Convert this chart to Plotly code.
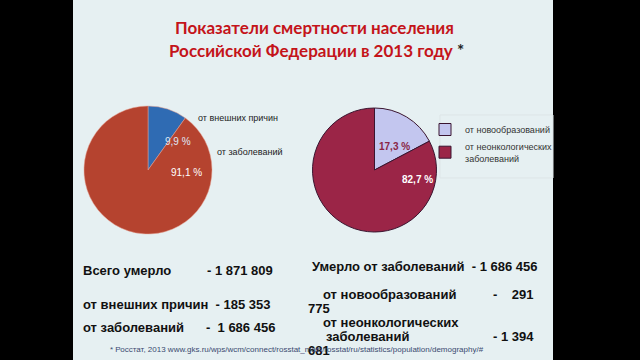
import plotly.graph_objects as go

# ---- data ----
left_labels = ["от внешних причин", "от заболеваний"]
left_values = [185353, 1686456]
left_text = ["9,9 %", "91,1 %"]
right_labels = ["от новообразований", "от неонкологических<br>заболеваний"]
right_values = [291775, 1394681]
right_text = ["17,3 %", "82,7 %"]

W, H = 640, 360
def px(x): return x / W
def py(y): return 1 - y / H

fig = go.Figure()

# left pie
fig.add_trace(go.Pie(
    labels=left_labels, values=left_values, sort=False, direction="clockwise",
    marker=dict(colors=["#2f6bb3", "#b5432f"], line=dict(color="#e6a090", width=0.5)),
    textinfo="none", hoverinfo="label+value", showlegend=False,
    domain=dict(x=[px(84), px(212)], y=[py(234), py(106)])))

# right pie
fig.add_trace(go.Pie(
    labels=right_labels, values=right_values, sort=False, direction="clockwise",
    marker=dict(colors=["#c3c6ef", "#9b2547"], line=dict(color="#3a1530", width=1)),
    textinfo="none", hoverinfo="label+value", showlegend=True,
    domain=dict(x=[px(312), px(437)], y=[py(232), py(108)])))

fig.update_layout(
    width=W, height=H, margin=dict(l=0, r=0, t=0, b=0),
    paper_bgcolor="#000000", plot_bgcolor="#000000",
    legend=dict(x=px(425), y=py(115), xanchor="left", yanchor="top",
                bgcolor="rgba(0,0,0,0)", bordercolor="rgba(0,0,0,0)", borderwidth=0,
                font=dict(family="Liberation Sans", size=9, color="#333333"),
                itemwidth=30),
    shapes=[dict(type="rect", xref="paper", yref="paper",
                 x0=px(73), x1=px(553), y0=0, y1=1,
                 fillcolor="#e6f0f2", line=dict(width=0), layer="below"),
            dict(type="rect", xref="paper", yref="paper",
                 x0=px(440), x1=px(553), y0=py(178), y1=py(115),
                 fillcolor="rgba(0,0,0,0)", line=dict(width=1, color="#dde5e7"), layer="below")],
)

def ann(text, x, y, size=13, color="#111111", bold=True, family="Liberation Sans", xanchor="left"):
    t = f"<b>{text}</b>" if bold else text
    fig.add_annotation(text=t, x=px(x), y=py(y), xref="paper", yref="paper",
                       xanchor=xanchor, yanchor="middle", showarrow=False,
                       font=dict(family=family, size=size, color=color))

# title
ann("Показатели смертности населения", 314, 28, size=17, color="#c4141a", family="Lato", xanchor="center")
ann("Российской Федерации в 2013 году <span style='color:#222'>*</span>", 316, 51, size=17,
    color="#c4141a", family="Lato", xanchor="center")

# pie value labels
ann(left_text[0], 163, 142, size=10, color="#dfe8f5", bold=False)
ann(left_text[1], 169, 172, size=10, color="#ffffff", bold=False)
ann(right_text[0], 377, 146, size=10, color="#8a2545", bold=True)
ann(right_text[1], 400, 179, size=10, color="#ffffff", bold=True)

# left-pie labels
ann(left_labels[0], 196, 118, size=9, color="#222222", bold=False)
ann(left_labels[1], 215, 152, size=9, color="#222222", bold=False)

# bottom text blocks
ann("Всего умерло", 81, 270)
ann("- 1 871 809", 205, 270)
ann("от внешних причин  - 185 353", 81, 304)
ann("от заболеваний", 81, 327)
ann("-  1 686 456", 204, 327)

ann("Умерло от заболеваний  - 1 686 456", 310, 266)
ann("от новообразований", 321, 294)
ann("-    291", 491, 294)
ann("775", 306, 308)
ann("от неонкологических", 321, 322)
ann("заболеваний", 324, 336)
ann("- 1 394", 491, 336)
ann("681", 306, 350)

ann("* Росстат, 2013 www.gks.ru/wps/wcm/connect/rosstat_main/rosstat/ru/statistics/population/demography/#",
    108, 349, size=8, color="#3a4a70", bold=False)

fig.write_html("out.html", config={"displayModeBar": False})

# remove default page margin so the figure fills the window
with open("out.html", encoding="utf-8") as f:
    html = f.read()
html = html.replace("<head>", "<head><style>html,body{margin:0;padding:0;overflow:hidden;background:#000}</style>", 1)
with open("out.html", "w", encoding="utf-8") as f:
    f.write(html)
